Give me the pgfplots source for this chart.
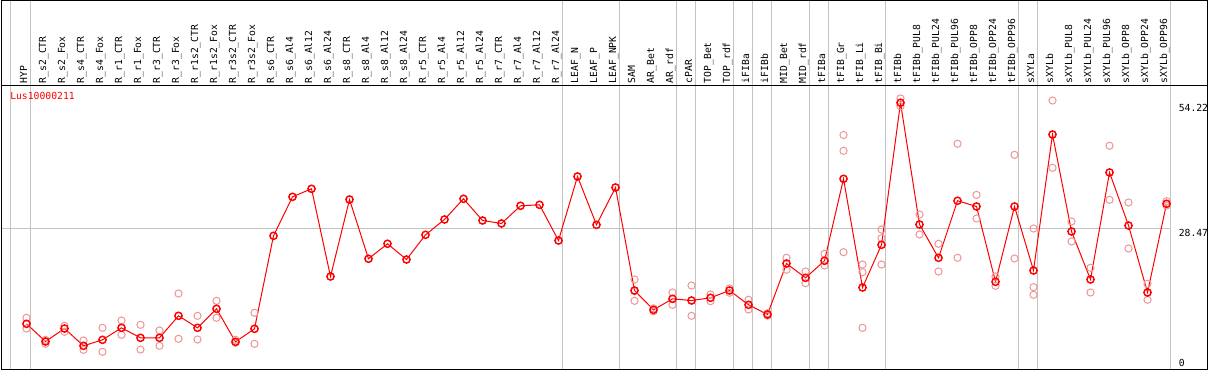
\documentclass[border=0pt]{standalone}
\usepackage{pgfplots}
\usepackage{pgfplotstable}
\pgfplotsset{compat=1.18}
\usepackage{fontspec}
\newfontfamily\monofont{DejaVu Sans Mono}
\definecolor{meanred}{RGB}{255,0,0}
\definecolor{repred}{RGB}{238,150,150}
\definecolor{gridgray}{RGB}{195,195,195}

\pgfplotstableread{
x y
0 8.83
1 5.20
2 7.86
3 4.31
4 5.54
5 8.00
6 5.95
7 5.95
8 10.47
9 8.00
10 11.91
11 5.13
12 7.80
13 26.90
14 34.90
15 36.55
16 18.54
17 34.35
18 22.18
19 25.26
20 22.03
21 27.10
22 30.25
23 34.50
24 30.04
25 29.43
26 33.06
27 33.26
28 25.93
29 39.08
30 29.15
31 36.82
32 15.67
33 11.70
34 13.96
35 13.61
36 14.17
37 15.67
38 12.73
39 10.74
40 21.21
41 18.27
42 21.77
43 38.60
44 16.28
45 25.05
46 54.22
47 29.22
48 22.38
49 34.09
50 32.92
51 17.45
52 32.92
53 19.77
54 47.70
55 27.78
56 17.93
57 39.90
58 29.01
59 15.26
60 33.47
}\meantable

\pgfplotstableread{
x y
0 10.06
0 7.86
1 5.54
1 4.72
2 8.42
2 7.19
3 5.40
3 3.49
4 8.00
4 3.08
5 9.50
5 6.57
6 8.62
6 3.55
7 7.45
7 4.31
8 15.05
8 5.75
9 10.47
9 5.61
10 13.55
10 10.06
11 5.54
11 4.93
12 11.09
12 4.72
32 17.93
32 15.53
32 13.55
33 12.00
33 11.40
34 15.26
34 12.73
35 16.69
35 10.47
36 14.85
36 13.47
37 16.10
37 15.20
38 13.76
38 11.77
39 11.00
39 10.50
40 22.38
40 19.92
41 19.57
41 17.17
42 23.20
42 20.80
43 47.60
43 44.35
43 23.53
44 21.00
44 19.43
44 8.00
45 28.19
45 26.41
45 21.00
46 55.10
46 53.50
47 31.27
47 27.17
48 25.26
48 19.57
49 45.80
49 22.38
50 35.30
50 30.45
51 18.54
51 16.63
52 43.53
52 22.24
53 28.40
53 16.35
53 14.78
54 54.68
54 40.86
55 29.84
55 25.73
56 20.33
56 15.26
57 45.38
57 34.29
58 33.74
58 24.29
59 17.04
59 13.76
60 34.00
60 33.10
}\reptable

\begin{document}
\begin{tikzpicture}
\useasboundingbox (0,0) rectangle (906.75pt,-277.5pt);
\begin{axis}[
  at={(1.125pt,-277.125pt)}, anchor=south west,
  scale only axis, width=904.5pt, height=213pt,
  xmin=-1.3158, xmax=62.158, ymin=-0.554, ymax=57.76,
  clip=false,
  axis line style={draw=none},
  ytick=\empty,
  xtick={0,...,60},
  major tick length=0pt,
  xticklabel pos=upper,
  xticklabels={HYP,R\_s2\_CTR,R\_s2\_Fox,R\_s4\_CTR,R\_s4\_Fox,R\_r1\_CTR,R\_r1\_Fox,R\_r3\_CTR,R\_r3\_Fox,R\_r1s2\_CTR,R\_r1s2\_Fox,R\_r3s2\_CTR,R\_r3s2\_Fox,R\_s6\_CTR,R\_s6\_Al4,R\_s6\_Al12,R\_s6\_Al24,R\_s8\_CTR,R\_s8\_Al4,R\_s8\_Al12,R\_s8\_Al24,R\_r5\_CTR,R\_r5\_Al4,R\_r5\_Al12,R\_r5\_Al24,R\_r7\_CTR,R\_r7\_Al4,R\_r7\_Al12,R\_r7\_Al24,LEAF\_N,LEAF\_P,LEAF\_NPK,SAM,AR\_Bet,AR\_rdf,cPAR,TOP\_Bet,TOP\_rdf,iFIBa,iFIBb,MID\_Bet,MID\_rdf,tFIBa,tFIB\_Gr,tFIB\_Li,tFIB\_Bi,tFIBb,tFIBb\_PUL8,tFIBb\_PUL24,tFIBb\_PUL96,tFIBb\_OPP8,tFIBb\_OPP24,tFIBb\_OPP96,sXYLa,sXYLb,sXYLb\_PUL8,sXYLb\_PUL24,sXYLb\_PUL96,sXYLb\_OPP8,sXYLb\_OPP24,sXYLb\_OPP96},
  xticklabel style={xshift=0.4pt, yshift=1.5pt, rotate=90, anchor=base west, inner sep=0pt, font=\monofont\fontsize{7.3}{8}\selectfont},
]
% group separators
\pgfplotsinvokeforeach{-0.816,0.21,28.21,31.21,34.21,35.21,37.21,38.21,39.21,41.21,42.21,45.21,52.21,53.21,60.21}{
  \draw[gridgray, line width=0.75pt] (axis cs:#1,-0.554) -- (axis cs:#1,75.32);
}
% reference line
\draw[gridgray, line width=0.75pt] (axis cs:-1.3158,28.47) -- (axis cs:60.21,28.47);
\addplot[only marks, mark=o, mark size=2.7pt, repred, line width=0.75pt] table {\reptable};
\addplot[meanred, line width=0.75pt, mark=o, mark size=2.7pt, mark options={line width=1.1pt}] table {\meantable};
\end{axis}
\begin{scope}[x=0.75pt,y=-0.75pt]
  \draw[black, line width=0.75pt] (1.5,0.5) -- (1207.5,0.5) -- (1207.5,369.5) -- (1.5,369.5) -- cycle;
  \draw[black, line width=0.75pt] (1.5,85.5) -- (1207.5,85.5);
  \node[anchor=north west, inner sep=0pt, text=meanred, font=\monofont\fontsize{7.3}{8}\selectfont] at (10,92) {Lus10000211};
  \node[anchor=north west, inner sep=0pt, font=\monofont\fontsize{7.3}{8}\selectfont] at (1178.5,104) {54.22};
  \node[anchor=north west, inner sep=0pt, font=\monofont\fontsize{7.3}{8}\selectfont] at (1178.5,229.5) {28.47};
  \node[anchor=north west, inner sep=0pt, font=\monofont\fontsize{7.3}{8}\selectfont] at (1178.5,359) {0};
\end{scope}
\end{tikzpicture}
\end{document}
